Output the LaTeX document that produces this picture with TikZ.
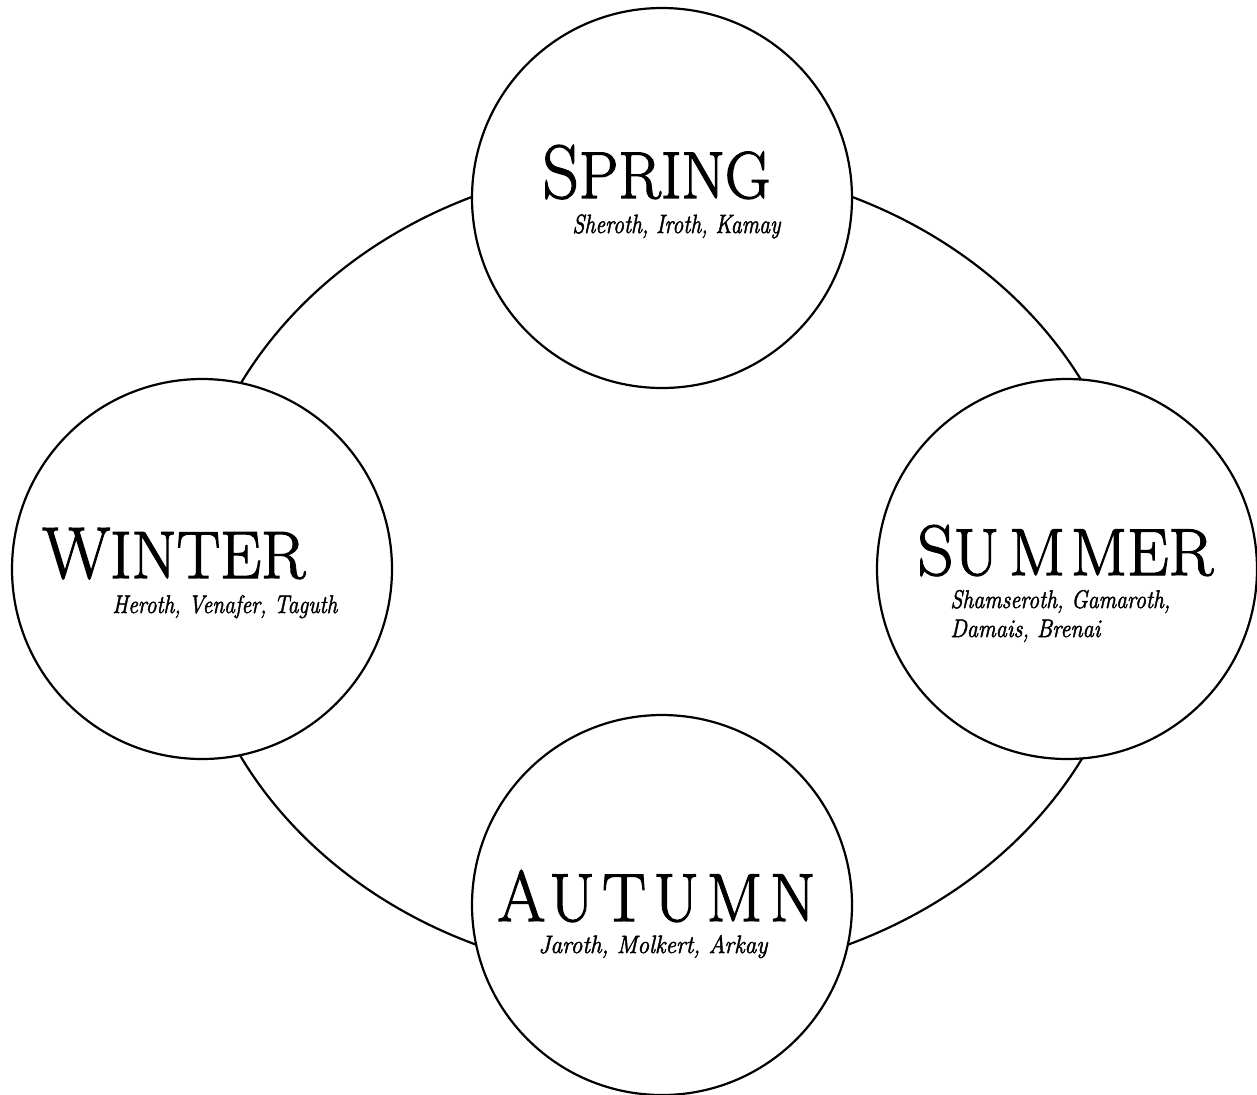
\documentclass[tikz,border=0pt]{standalone}
\usepackage{fontspec}
\usepackage{graphicx}
\newcommand\heavytxt[2]{\special{pdf:literal direct 2 Tr #1 w}#2\special{pdf:literal direct 0 Tr}}
\tikzset{
  season/.style={circle, draw, line width=1.1pt, fill=white, minimum size=190pt, inner sep=0pt},
  ttl/.style={anchor=base west, inner sep=0pt, font=\rmfamily},
  subttl/.style={anchor=base west, inner sep=0pt, font=\itshape\fontsize{13}{13}\selectfont},
  ring/.style={line width=1.1pt}
}
\begin{document}
\begin{tikzpicture}[x=0.5pt,y=-0.5pt]
\useasboundingbox (0,0) rectangle (1257,1094);
\coordinate (mid) at (662,570);
\draw[ring] (mid) ellipse [x radius=236.9pt, y radius=203.6pt];
\node[season] (spring) at (662,198) {};
\node[season] (winter) at (202,569) {};
\node[season] (summer) at (1067,569) {};
\node[season] (autumn) at (662,905) {};
% titles
\node[ttl] (springT) at (542,198) {\resizebox{114pt}{26.5pt}{\heavytxt{0.6}{\fontsize{36}{36}\selectfont S\fontsize{31.5}{31.5}\selectfont PRING}}};
\node[ttl] (winterT) at (42,578) {\resizebox{131.5pt}{25pt}{\heavytxt{0.6}{\fontsize{36}{36}\selectfont W\fontsize{33}{33}\selectfont INTER}}};
\node[ttl] (summerT) at (917,575) {\resizebox{148pt}{25pt}{\heavytxt{0.6}{\fontsize{36}{36}\selectfont S\fontsize{33.5}{33.5}\selectfont U\kern5pt M\kern3pt MER}}};
\node[ttl] (autumnT) at (497,921) {\resizebox{159pt}{25.5pt}{\heavytxt{0.6}{\fontsize{36}{36}\selectfont A\kern2pt\fontsize{34}{34}\selectfont U\kern4pt T\kern4pt U\kern4pt M\kern4pt N}}};
% subtitles
\node[subttl] (springS) at (572,233) {\resizebox{104pt}{9.3pt}{\heavytxt{0.25}{Sheroth, Iroth, Kamay}}};
\node[subttl] (winterS) at (112,613) {\resizebox{112.5pt}{9pt}{\heavytxt{0.25}{Heroth, Venafer, Taguth}}};
\node[subttl] (summerS) at (950,608) {\vtop{\baselineskip=14.5pt\lineskiplimit=-100pt\hbox{\resizebox{110pt}{9pt}{\heavytxt{0.25}{Shamseroth, Gamaroth,}}}\hbox{\resizebox{75pt}{8.7pt}{\heavytxt{0.25}{Damais, Brenai}}}}};
\node[subttl] (autumnS) at (538,953) {\resizebox{114.5pt}{9pt}{\heavytxt{0.25}{Jaroth, Molkert, Arkay}}};
\end{tikzpicture}
\end{document}
